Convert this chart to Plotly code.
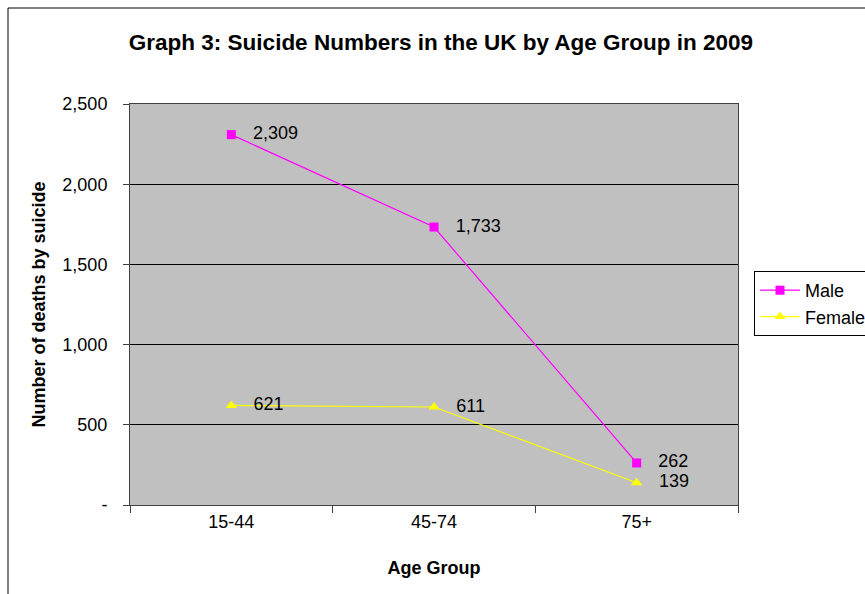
import plotly.graph_objects as go

age_groups = ["15-44", "45-74", "75+"]
male = [2309, 1733, 262]
female = [621, 611, 139]
y_tick_vals = [0, 500, 1000, 1500, 2000, 2500]
y_tick_text = ["-", "500", "1,000", "1,500", "2,000", "2,500"]

FONT = "Liberation Sans, Arial, sans-serif"

fig = go.Figure()
fig.add_trace(go.Scatter(
    x=age_groups, y=male, name="Male", mode="lines+markers+text",
    line=dict(color="#FF00FF", width=1.2),
    marker=dict(symbol="square", size=9, color="#FF00FF"),
    texttemplate="   %{y:,}", textposition="middle right",
    textfont=dict(size=18, color="black", family=FONT),
))
fig.add_trace(go.Scatter(
    x=age_groups, y=female, name="Female", mode="lines+markers+text",
    line=dict(color="#FFFF00", width=1.2),
    marker=dict(symbol="triangle-up", size=10, color="#FFFF00"),
    texttemplate="   %{y:,}", textposition="middle right",
    textfont=dict(size=18, color="black", family=FONT),
))

# outer chart frame
fig.add_shape(type="rect", xref="paper", yref="paper",
              x0=(8 - 130) / 608, x1=2, y0=-1, y1=1 + (104 - 8) / 401,
              line=dict(color="black", width=1), fillcolor="rgba(0,0,0,0)",
              layer="below")

fig.update_layout(
    width=865, height=594,
    margin=dict(l=130, r=127, t=104, b=89, autoexpand=False),
    paper_bgcolor="white", plot_bgcolor="#C0C0C0",
    font=dict(family=FONT, size=18, color="black"),
    title=dict(text="<b>Graph 3: Suicide Numbers in the UK by Age Group in 2009</b>",
               x=441 / 865, xanchor="center", y=1 - 42 / 594, yanchor="middle",
               font=dict(size=22.5)),
    showlegend=True,
    legend=dict(x=(754 - 130) / 608, y=1 - (271 - 104) / 401,
                xanchor="left", yanchor="top",
                bordercolor="black", borderwidth=1, bgcolor="white",
                font=dict(size=18), tracegroupgap=0,
                itemwidth=40),
    xaxis=dict(
        type="category", tickson="boundaries", ticks="outside", ticklen=7,
        tickcolor="#404040", showgrid=False, showline=True, linecolor="#404040",
        mirror=True, range=[-0.5, 2.5],
        title=dict(text="<b>Age Group</b>", font=dict(size=18), standoff=30),
        tickfont=dict(size=18),
    ),
    yaxis=dict(
        range=[0, 2500], tickvals=y_tick_vals, ticktext=y_tick_text,
        ticks="outside", ticklen=6, tickcolor="#404040",
        showgrid=True, gridcolor="black", gridwidth=1,
        showline=True, linecolor="#404040", mirror=True, zeroline=False,
        title=dict(text="<b>Number of deaths by suicide</b>", font=dict(size=18), standoff=12),
        tickfont=dict(size=18), ticklabelstandoff=12,
    ),
)

fig.write_html("out.html")
